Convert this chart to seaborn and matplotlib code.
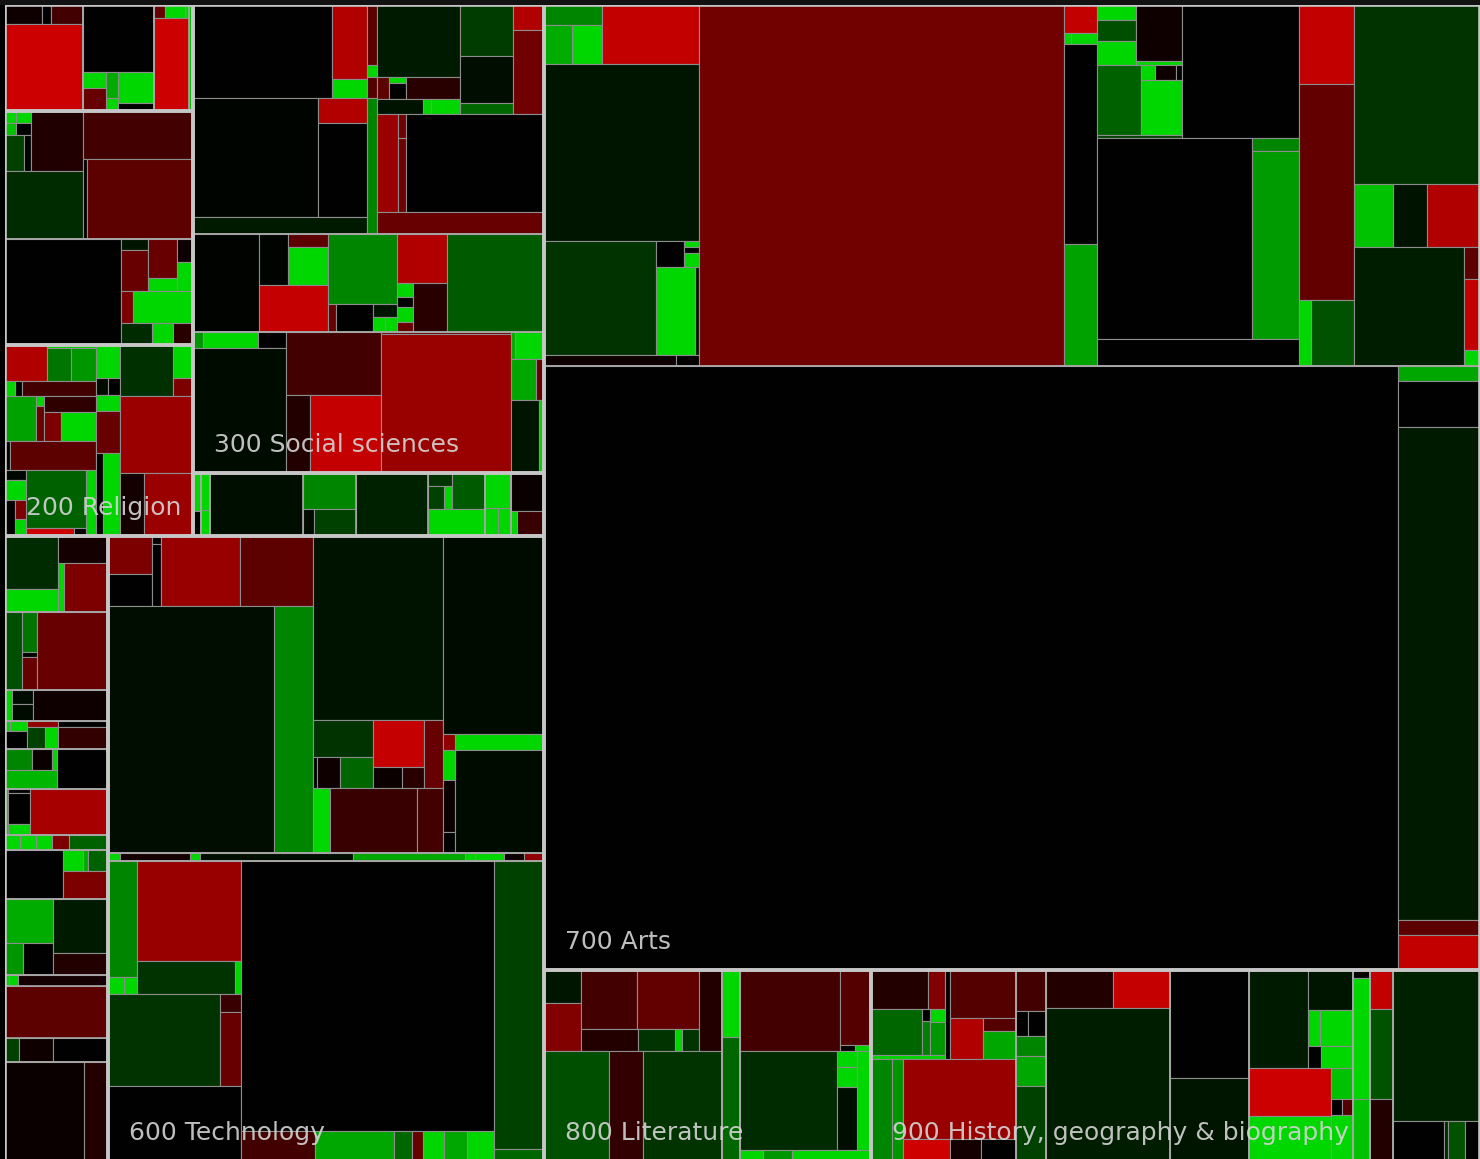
import matplotlib
matplotlib.use("Agg")
import matplotlib.pyplot as plt
from matplotlib.patches import Rectangle
import seaborn as sns

# ---------------------------------------------------------------- data
# Each leaf is (size, change); change runs from -1 (red) to +1 (green).
# Nested lists describe the hierarchy (sub-divisions) inside each class.

class_codes = ["000", "100", "200", "300", "400", "500", "600", "700", "800", "900"]
class_names = ["000 Computer science, information & general works",
               "100 Philosophy & psychology", "200 Religion", "300 Social sciences",
               "400 Language", "500 Science", "600 Technology", "700 Arts",
               "800 Literature", "900 History, geography & biography"]
# grouping of the classes into blocks
class_tree = [[[["000", "100", "200"], ["300", "400"]], ["500", "600"]],
              ["700", ["800", "900"]]]

d000 = [
    [[(6.8, -0.07), (1.7, 0.0), (6.1, -0.32)], (67.1, -0.98)],
    [(46.2, 0.0), [[(3.5, 1.0), (5.1, -0.5)], [(3.1, 0.8), (1.6, 1.0)], [(10.9, 1.0), (2.8, 0.0)]]],
    [[(1.4, -0.5), (2.6, 1.0), (0.5, 1.0)], (32.2, -0.98)],
    (4.2, 0.9),
]

d100 = [
    [
        [
            [[[(1.3, 1.0), (1.7, 1.0)], [(1.3, 0.9), (1.7, 0.0)], [(6.7, 0.3), (2.5, 0.02)]],
             (30.6, -0.15)],
            (52.3, 0.2),
        ],
        [(51.2, -0.32), [(3.2, 0.0), (84.0, -0.44)]],
    ],
    [
        (119.7, 0.0),
        [
            [[(2.8, 0.1), (11.2, -0.5)], [(11.1, -0.5), (3.9, 1.0)], [(3.5, -0.07), (4.5, 1.0)]],
            [(3.9, -0.6), (18.3, 1.0)],
            [(6.8, 0.2), (4.4, 1.0), (4.4, -0.2)],
        ],
    ],
]

d200 = [[
    [
        [(14.8, -0.85), [(1.5, 1.0), [(7.9, 0.55), (7.9, 0.7)]]],
        [(1.5, 1.0), (1.0, 0.0), (11.1, -0.32)],
        [(13.6, 0.75), [(0.9, 1.0), (3.0, -0.5)], [(8.3, -0.22), [(4.8, -0.6), (9.8, 1.0)]]],
        [(1.4, 0.0), (24.4, -0.44)],
        [[(2.1, 0.03), (4.2, 1.0), [(3.7, 0.0), [(2.1, -0.6), (1.8, 1.0)]]],
         [(33.6, 0.45), [(3.8, -0.98), (0.9, 0.0)]], (6.7, 1.0)],
    ],
    [(7.9, 1.0), [(2.0, 0.05), (2.0, 0.0)], (3.8, 1.0), (9.8, -0.5), [(5.7, 0.0), (13.9, 1.0)]],
    [[(26.5, 0.22), [(6.6, 1.0), (3.6, -0.6)]], (55.4, -0.75), [(14.9, -0.1), (29.8, -0.75)]],
]]

d300 = [
    [
        [
            [(127.4, 0.0), [(25.6, -0.85), (6.7, 1.0)]],
            [(145.1, 0.02), [(11.8, -0.85), (45.6, 0.0)]],
            (29.8, 0.12),
        ],
        [(5.9, -0.44), (1.2, 1.0), (2.1, -0.4), (13.5, 0.62)],
        [
            [
                [(58.9, 0.12), [(2.6, -0.44), [(0.9, 1.0), (2.9, 0.0)], (11.7, -0.2)],
                 [(6.4, 0.08), (1.1, 1.0), (4.1, 1.0)]],
                [(26.5, 0.28), (23.9, 0.06), (5.7, 0.48)],
                [(7.8, -0.85), (25.7, -0.54)],
            ],
            [(20.4, -0.75), [(1.9, -0.54), (5.8, -0.54)], (132.9, 0.0)],
            (36.5, -0.5),
        ],
    ],
    [
        (64.0, 0.01),
        [[(14.5, 0.02), [(5.2, -0.44), (14.8, 1.0)]], (31.7, -0.95)],
        [(46.9, 0.62), [(2.2, -0.5), (10.4, 0.0), [(3.1, 0.1), [(1.8, 1.0), (1.8, 1.0)]]]],
        [(24.5, -0.85), [[(2.2, 1.0), (1.7, 0.0), (2.4, 1.0), (1.7, -0.5)], (16.3, -0.2)]],
        (93.1, 0.42),
    ],
    [
        [[(1.6, 0.7), (8.8, 1.0), (4.5, 0.0)], (114.4, 0.05)],
        [(58.9, -0.32), [(18.2, -0.17), (54.0, -0.95)]],
        [(2.6, -0.5), (176.7, -0.74)],
        [[(1.0, 0.8), (7.5, 1.0)], [(10.3, 0.78), (3.3, -0.5)], [(19.9, 0.1), (3.6, 1.0)]],
    ],
]

d400 = [
    [(3.0, 1.0), (2.0, 0.0)],
    [(3.4, 1.0), (2.3, 1.0)],
    (57.3, 0.07),
    [(18.7, 0.62), [(3.0, 0.05), (11.1, 0.3)]],
    (44.1, 0.15),
    [[[(3.1, 0.24), [(3.8, 0.3), (1.7, 1.0)]], (11.8, 0.42)], (14.8, 1.0)],
    [(9.1, 1.0), [(3.6, 1.0), (3.6, 1.0)]],
    [(12.2, -0.05), [(1.5, 1.0), (6.5, -0.27)]],
]

d500 = [
    [[(27.6, 0.2), (12.0, 1.0)], [(13.8, -0.1), [(2.9, 1.0), (21.6, -0.6)]]],
    [(13.1, 0.36), [(5.7, 0.55), (0.8, 0.0), (4.8, -0.5)], (54.7, -0.5)],
    [(2.1, 1.0), [(2.9, 0.05), (3.4, 0.05)], (22.8, -0.07)],
    [[[(0.5, 1.0), (1.7, 1.0)], (3.7, 0.0)], [(1.9, -0.7), [(3.8, 0.3), (2.7, 1.0)]],
     [(3.1, 0.0), (10.7, -0.25)]],
    [[[(5.5, 0.62), (4.2, -0.05), (1.1, 1.0)], (9.9, 0.85)], (20.4, 0.0)],
    [(1.4, 1.0), [(0.9, 0.0), (6.6, 0.0), (2.2, 1.0)], (35.1, -0.8)],
    [(2.3, 1.0), (2.4, 1.0), (2.4, 1.0), (2.6, -0.6), (6.0, 0.45)],
    [(27.8, 0.0), [[(4.0, 1.0), (1.0, 0.8), (4.2, 0.45)], (12.9, -0.6)]],
    [[(20.6, 0.8), [(5.8, 0.7), (9.6, 0.0)]], [(29.1, 0.12), (12.3, -0.17)]],
    [(0.4, 1.0), (0.9, 1.0), (9.0, -0.1)],
    (53.6, -0.44),
    [(3.2, 0.3), (7.8, -0.07), (12.7, 0.0)],
    [(77.4, -0.05), (23.5, -0.17)],
]

d600 = [
    [
        [
            [[(16.3, -0.6), (14.1, 0.0)], [(0.7, 0.0), (5.5, 0.0)], (54.6, -0.73), (50.4, -0.44)],
            [(401.7, 0.06), (94.4, 0.62)],
        ],
        [
            (234.5, 0.08),
            [[(22.0, 0.24), [(1.2, 0.0), (6.9, -0.07), (10.2, 0.48)]],
             [(23.5, -0.95), [(5.9, -0.05), (4.6, -0.2)]], (12.1, -0.5)],
            [(10.9, 1.0), (55.7, -0.27), (16.6, -0.32)],
        ],
        [
            (197.9, 0.05),
            [[(2.0, -0.7), (3.8, 1.0), (6.5, -0.05), (2.7, 0.0)], [(13.4, 1.0), (89.9, 0.05)]],
        ],
    ],
    [(0.9, 1.0), (5.6, -0.1), (0.8, 1.0), (12.2, 0.07), (9.0, 0.78), (0.8, 1.0), (2.3, 1.0),
     (1.6, -0.07), (1.6, -0.7)],
    [
        [
            [[(32.5, 0.62), [(2.6, 1.0), (2.2, 1.0)]], [(100.9, -0.73), [(31.4, 0.24), (1.9, 1.0)]]],
            [(101.0, 0.24), [(3.8, -0.27), (15.3, -0.5)]],
            (97.1, 0.0),
        ],
        [(670.6, 0.0), [(21.9, -0.32), (23.4, 0.78), (5.4, 0.48), (3.0, -0.5), (6.3, 1.0),
                        (6.9, 0.78), (7.8, 1.0)]],
        [(142.0, 0.3), (6.0, 0.48)],
    ],
]

arts_a = [
    [[(11.6, 0.62), [(10.6, 0.8), (11.0, 1.0)]], (55.7, -0.93)],
    (269.5, 0.1),
    [(125.4, 0.24), [[(7.3, 0.0), [(0.8, 1.0), (0.9, 0.0), (2.0, 1.0)]], [(33.9, 1.0), (3.5, 0.1)]]],
    [(14.4, -0.07), (2.5, 0.0)],
]
arts_b = (1296.0, -0.54)
arts_c = [(9.2, -0.93), [(0.8, 1.0), (2.9, 1.0)], (65.3, 0.0), (39.9, 0.75)]
arts_d = [
    [
        [
            [[(5.9, 1.0), (7.8, 0.36), (9.4, 1.0)], [(25.2, -0.07), (1.8, 1.0)]],
            [(30.4, 0.45), [[(2.0, 1.0), (3.2, -0.07), (0.9, 0.0)], (21.6, 1.0)]],
            (2.5, 0.3),
        ],
        (153.3, 0.0),
    ],
    [(306.5, 0.0), [(6.1, 0.62), (87.4, 0.72)]],
    (54.3, 0.0),
]
arts_e = [(42.1, -0.93), (115.6, -0.47), [(7.3, 1.0), (28.4, 0.38)]]
arts_f = [(221.3, 0.24), [(24.6, 0.9), (20.8, 0.08), (33.4, -0.85)],
          [(128.6, 0.14), [(5.0, -0.44), (11.4, -0.93), (2.6, 1.0)]]]
arts_big = (5059.1, 0.0)
arts_right = [(11.6, 0.78), (37.4, 0.0), (396.0, 0.12), (11.6, -0.44), (28.2, -0.93)]
d700 = [[arts_a, arts_b, arts_c, arts_d, arts_e, arts_f], [arts_big, arts_right]]

d800 = [
    [
        [[(11.9, 0.1), (17.3, -0.62)],
         [[(33.0, -0.32), (36.0, -0.47)], [(12.3, -0.17), (8.1, 0.24), (1.5, 1.0), (3.7, 0.24)]],
         (18.3, -0.17)],
        [(69.8, 0.36), (37.1, -0.24), (86.1, 0.24)],
    ],
    [(11.4, 1.0), (21.1, 0.48)],
    [
        [(79.4, -0.32), [(23.6, -0.4), [(0.8, 0.0), (0.8, 1.0)]]],
        [(95.1, 0.2), [(3.2, 1.0), (4.0, 1.0), (12.4, 0.07)], (13.7, 1.0)],
        [(2.6, 1.0), (3.1, 0.7), (8.7, 1.0)],
    ],
]

d900 = [
    [
        [
            [[(22.1, -0.17), (6.6, -0.62)],
             [(22.6, 0.48), [(1.0, 0.0), (2.8, 0.6)], [(1.8, 1.0), (4.8, 0.7)]], (2.8, 1.0)],
            (4.6, 0.0),
            [(31.4, -0.4), [(13.4, -0.85), [(4.2, -0.4), (9.0, 0.78)]]],
        ],
        [(21.2, 0.62), (11.1, 0.7), [(88.5, -0.73), [(10.1, -1.0), (6.8, -0.1), (7.7, 0.0)]]],
    ],
    [(11.9, -0.32), [(2.8, 0.0), (4.5, 0.0)], (5.8, 0.62), (8.7, 0.78), (21.8, 0.3)],
    [[(25.1, -0.17), (21.3, -0.95)], (187.9, 0.14)],
    [(83.2, 0.0), (63.9, 0.1)],
    [
        [(57.4, 0.12), [(18.0, 0.1), [(4.2, 1.0), (11.6, 1.0)], [(2.9, 0.0), (7.0, 1.0)]]],
        [[(38.9, -0.98), (36.5, 1.0)], [(6.8, 0.9), [(1.7, 0.0), (1.7, -0.4)], (9.9, 1.0)]],
    ],
    [(1.3, 0.0), (19.5, 1.0), (9.9, 0.9)],
    [(9.2, -0.93), (20.7, 0.38), (14.3, -0.17)],
    [(129.2, 0.15), [(20.0, 0.0), (1.6, 0.2), (6.4, 0.38), (6.0, 0.0)]],
]

class_data = dict(zip(class_codes, [d000, d100, d200, d300, d400, d500, d600, d700, d800, d900]))
class_label = dict(zip(class_codes, class_names))

# ---------------------------------------------------------------- layout
W, H = 1475.0, 1156.0


def is_leaf(n):
    return isinstance(n, tuple)


def node_total(n):
    return n[0] if is_leaf(n) else sum(node_total(c) for c in n)


def slice_layout(node, x, y, w, h, across, depth, leaves, blocks):
    if is_leaf(node):
        leaves.append((x, y, w, h, node[1]))
        return
    if depth == 1:
        blocks.append((x, y, w, h))
    tot = node_total(node)
    off = 0.0
    for child in node:
        frac = node_total(child) / tot
        if across:
            slice_layout(child, x + off * w, y, frac * w, h, not across, depth + 1, leaves, blocks)
        else:
            slice_layout(child, x, y + off * h, w, frac * h, not across, depth + 1, leaves, blocks)
        off += frac


def class_total(n):
    if isinstance(n, str):
        return node_total(class_data[n])
    return sum(class_total(c) for c in n)


def class_layout(n, x, y, w, h, across, out):
    if isinstance(n, str):
        out[n] = (x, y, w, h)
        return
    tot = class_total(n)
    off = 0.0
    for c in n:
        frac = class_total(c) / tot
        if across:
            class_layout(c, x + off * w, y, frac * w, h, not across, out)
        else:
            class_layout(c, x, y + off * h, w, frac * h, not across, out)
        off += frac


class_rects = {}
class_layout(class_tree, 0.0, 0.0, W, H, True, class_rects)

# ---------------------------------------------------------------- drawing
sns.set_style("dark", {"axes.facecolor": "black", "figure.facecolor": "black"})
plt.rcParams["font.family"] = ["DejaVu Sans"]

cmap = sns.blend_palette(["#cf0000", "#000000", "#00d600"], as_cmap=True)
norm = plt.Normalize(-1, 1)

fig = plt.figure(figsize=(14.8, 11.59), dpi=100)
fig.patch.set_facecolor("black")
fig.add_artist(Rectangle((0, 1 - 5 / 1159), 1, 5 / 1159, transform=fig.transFigure,
                         facecolor="#121212", edgecolor="none"))
ax = fig.add_axes([5 / 1480, 0, 1475 / 1480, 1 - 5 / 1159])
ax.set_xlim(0, W)
ax.set_ylim(1154, 0)
ax.set_axis_off()

renderer = fig.canvas.get_renderer()
for code in class_codes:
    x, y, w, h = class_rects[code]
    leaves, blocks = [], []
    slice_layout(class_data[code], x, y, w, h, w >= h, 0, leaves, blocks)
    for (lx, ly, lw, lh, ch) in leaves:
        ax.add_patch(Rectangle((lx, ly), lw, lh, facecolor=cmap(norm(ch)),
                               edgecolor="#8c8c8c", linewidth=0.8))
    for (bx, by, bw, bh) in blocks:
        ax.add_patch(Rectangle((bx, by), bw, bh, facecolor="none",
                               edgecolor="#a6a6a6", linewidth=1.2))

for code in class_codes:
    x, y, w, h = class_rects[code]
    ax.add_patch(Rectangle((x, y), w, h, facecolor="none", edgecolor="#c6c6c6", linewidth=2.6))
    if h >= 100:
        t = ax.text(x + 21, y + h - 21, class_label[code], color="#d4d4d4", alpha=0.9,
                    fontsize=18, ha="left", va="baseline")
        tw = t.get_window_extent(renderer=renderer).width
        if x + 21 + tw > x + w - 4:
            t.remove()

fig.savefig("out.png", dpi=100, facecolor="black")
